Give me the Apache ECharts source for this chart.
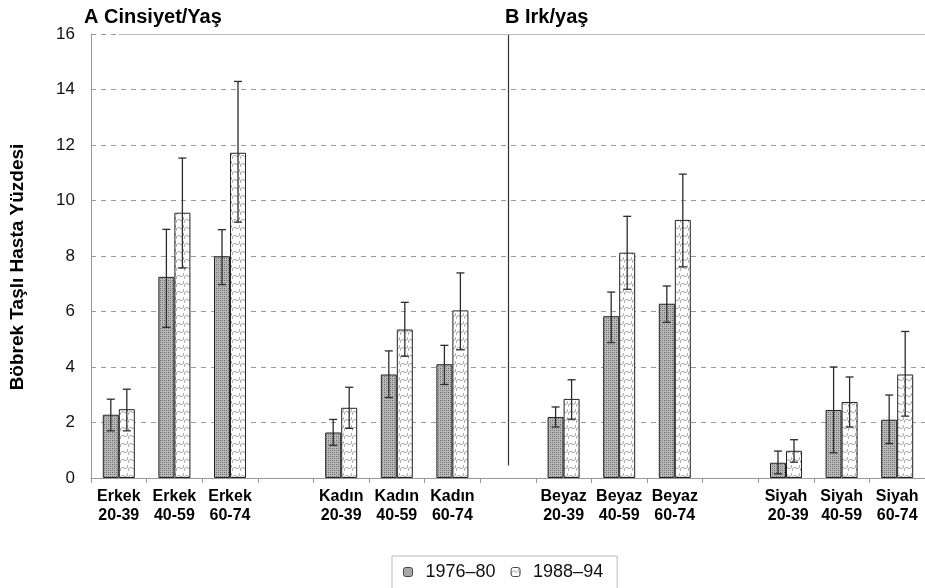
<!DOCTYPE html>
<html>
<head>
<meta charset="utf-8">
<script src="https://cdn.jsdelivr.net/npm/echarts@6/dist/echarts.min.js"></script>
<style>
  html, body { margin: 0; padding: 0; background: #fff; }
  #chart { width: 925px; height: 588px; }
</style>
</head>
<body>
<div id="chart"></div>
<script>
  // kategoriler (boş olanlar gruplar arası boşluk)
  const categories = [
    'Erkek\n20-39', 'Erkek\n40-59', 'Erkek\n60-74', '',
    'Kadın\n20-39', 'Kadın\n40-59', 'Kadın\n60-74', '',
    'Beyaz\n20-39', 'Beyaz\n40-59', 'Beyaz\n60-74', '',
    'Siyah\n 20-39', 'Siyah\n40-59', 'Siyah\n60-74'
  ]
  const yTicks = [0, 2, 4, 6, 8, 10, 12, 14, 16]

  // 1976–80
  const val7680 = [2.28, 7.25, 7.99, null, 1.64, 3.73, 4.1, null, 2.2, 5.83, 6.28, null, 0.55, 2.45, 2.1]
  const low7680 = [1.7, 5.43, 6.97, null, 1.18, 2.9, 3.37, null, 1.84, 4.88, 5.61, null, 0.15, 0.91, 1.24]
  const high7680 = [2.84, 8.96, 8.95, null, 2.11, 4.58, 4.78, null, 2.56, 6.7, 6.92, null, 0.97, 4.0, 2.99]

  // 1988–94
  const val8894 = [2.48, 9.56, 11.72, null, 2.53, 5.35, 6.04, null, 2.85, 8.12, 9.3, null, 0.98, 2.74, 3.73]
  const low8894 = [1.7, 7.57, 9.22, null, 1.79, 4.39, 4.62, null, 2.12, 6.8, 7.61, null, 0.57, 1.84, 2.23]
  const high8894 = [3.2, 11.53, 14.29, null, 3.27, 6.33, 7.39, null, 3.54, 9.43, 10.95, null, 1.38, 3.64, 5.28]

  const barW = 16

  /* desenler */
  function darkPattern() {
    const c = document.createElement('canvas')
    c.width = 4; c.height = 4
    const g = c.getContext('2d')
    g.fillStyle = '#b8b8b8'
    g.fillRect(0, 0, 4, 4)
    g.fillStyle = '#666'
    g.fillRect(0, 0, 1, 1); g.fillRect(2, 2, 1, 1)
    g.fillStyle = '#888'
    g.fillRect(2, 0, 1, 1); g.fillRect(0, 2, 1, 1)
    return c
  }
  function lightPattern() {
    const c = document.createElement('canvas')
    c.width = 8; c.height = 8
    const g = c.getContext('2d')
    g.fillStyle = '#ffffff'
    g.fillRect(0, 0, 8, 8)
    g.strokeStyle = '#8f8f8f'
    g.lineWidth = 0.9
    g.beginPath()
    g.moveTo(0, 7); g.quadraticCurveTo(1, 2, 4, 4); g.quadraticCurveTo(7, 6, 8, 1)
    g.stroke()
    return c
  }
  const fill1 = { image: darkPattern(), repeat: 'repeat' }
  const fill2 = { image: lightPattern(), repeat: 'repeat' }

  function errData(lo, hi) {
    const out = []
    lo.forEach((v, i) => {
      if (v != null) out.push([i, v, hi[i]])
    })
    return out
  }

  function errRender(offset) {
    return function (params, api) {
      const top = api.coord([api.value(0), api.value(2)])
      const bot = api.coord([api.value(0), api.value(1)])
      const x = top[0] + offset
      const cap = 4
      const st = { stroke: '#2b2b2b', lineWidth: 1.3 }
      return {
        type: 'group',
        children: [
          { type: 'line', shape: { x1: x, y1: top[1], x2: x, y2: bot[1] }, style: st },
          { type: 'line', shape: { x1: x - cap, y1: top[1], x2: x + cap, y2: top[1] }, style: st },
          { type: 'line', shape: { x1: x - cap, y1: bot[1], x2: x + cap, y2: bot[1] }, style: st }
        ]
      }
    }
  }

  const chart = echarts.init(document.getElementById('chart'))
  chart.setOption({
    animation: false,
    textStyle: { fontFamily: 'Liberation Sans, Arial, sans-serif' },
    title: [
      { text: 'A Cinsiyet/Yaş', left: 79, top: 2, textStyle: { fontSize: 20, fontWeight: 'bold', color: '#000' } },
      { text: 'B Irk/yaş', left: 500, top: 2, textStyle: { fontSize: 20, fontWeight: 'bold', color: '#000' } }
    ],
    legend: {
      data: [
        { name: '1976–80', itemStyle: { color: fill1, borderColor: '#444', borderWidth: 1 } },
        { name: '1988–94', itemStyle: { color: fill2, borderColor: '#444', borderWidth: 1 } }
      ],
      left: 392,
      top: 556,
      itemWidth: 9,
      itemHeight: 9,
      itemGap: 15,
      padding: [7, 14, 14, 11],
      borderColor: '#bbb',
      borderWidth: 1,
      textStyle: { fontSize: 18, color: '#111', padding: [0, 0, 0, 8] }
    },
    grid: {
      left: 91,
      right: 0,
      top: 34,
      bottom: 110
    },
    xAxis: {
      type: 'category',
      data: categories,
      axisLine: { lineStyle: { color: '#999' } },
      axisTick: { show: true, interval: 0, length: 5, lineStyle: { color: '#999' } },
      axisLabel: {
        interval: 0,
        margin: 9,
        fontSize: 16,
        fontWeight: 'bold',
        color: '#000',
        lineHeight: 19
      }
    },
    yAxis: {
      type: 'value',
      min: 0,
      max: yTicks[yTicks.length - 1],
      interval: yTicks[1] - yTicks[0],
      name: 'Böbrek Taşlı Hasta Yüzdesi',
      nameLocation: 'middle',
      nameRotate: 90,
      nameGap: 64,
      nameTextStyle: { fontSize: 19, fontWeight: 'bold', color: '#000', padding: [0, 0, 0, -22] },
      axisLine: { show: true, lineStyle: { color: '#999' } },
      axisTick: { show: false },
      axisLabel: { fontSize: 17, color: '#111', margin: 16 },
      splitLine: { lineStyle: { color: '#999', type: [5, 5], width: 1 } }
    },
    series: [
      {
        name: '1976–80',
        type: 'bar',
        data: val7680,
        barWidth: barW,
        barGap: '0%',
        itemStyle: { color: fill1, borderColor: '#222', borderWidth: 1 }
      },
      {
        name: '1988–94',
        type: 'bar',
        data: val8894,
        barWidth: barW,
        barGap: '0%',
        itemStyle: { color: fill2, borderColor: '#222', borderWidth: 1 }
      },
      {
        type: 'custom',
        name: 'err1',
        renderItem: errRender(-barW / 2),
        data: errData(low7680, high7680),
        encode: { x: 0, y: [1, 2] },
        z: 10,
        markLine: {
          silent: true,
          symbol: 'none',
          label: { show: false },
          data: [
            [{ coord: [7, 0.45], lineStyle: { color: '#333', type: 'solid', width: 1.2 } }, { coord: [7, 16] }],
            [{ coord: [0, 16], lineStyle: { color: '#bbb', type: 'solid', width: 1 } }, { x: 925, yAxis: 16 }]
          ]
        }
      },
      {
        type: 'custom',
        name: 'err2',
        renderItem: errRender(barW / 2),
        data: errData(low8894, high8894),
        encode: { x: 0, y: [1, 2] },
        z: 10
      }
    ]
  })
</script>
</body>
</html>
